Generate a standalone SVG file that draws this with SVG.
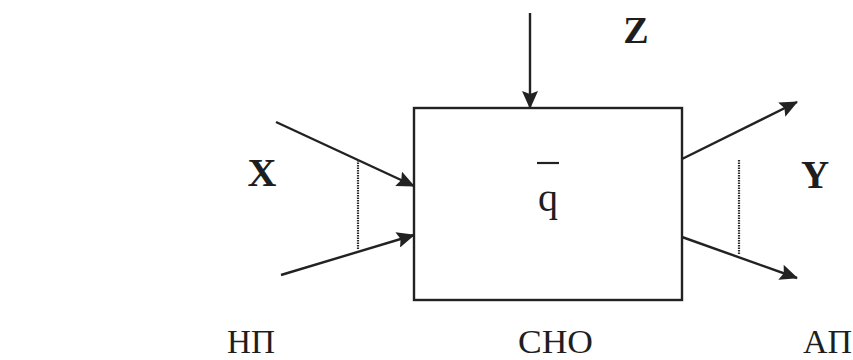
<svg xmlns="http://www.w3.org/2000/svg" width="853" height="360" viewBox="0 0 853 360">
  <style>
    .ln { stroke: #222; stroke-width: 2.4; fill: none; }
    .dot { stroke: #2a2a2a; stroke-width: 2.2; stroke-dasharray: 1.5 1; fill: none; }
    .lbl { font-family: "Liberation Serif", "Times New Roman", serif; fill: #1e1e1e; }
    .b { font-weight: bold; }
  </style>
  <defs>
    <marker id="ah" viewBox="0 0 18 16" refX="17" refY="8" markerWidth="18" markerHeight="16" markerUnits="userSpaceOnUse" orient="auto">
      <path d="M0,0 L18,8 L0,16 L3,8 Z" fill="#222"/>
    </marker>
  </defs>
  <rect width="853" height="360" fill="#ffffff"/>

  <g id="sno">
    <rect x="414" y="108" width="268" height="192" class="ln"/>
    <line x1="537" y1="163" x2="559" y2="163" stroke="#222" stroke-width="2.2"/>
    <text x="548" y="211" class="lbl" font-size="40" text-anchor="middle">q</text>
  </g>

  <g id="connectors">
    <line x1="276" y1="122" x2="414" y2="186" class="ln" marker-end="url(#ah)"/>
    <line x1="281" y1="275" x2="414" y2="235" class="ln" marker-end="url(#ah)"/>
    <line x1="530" y1="13" x2="530" y2="108" class="ln" marker-end="url(#ah)"/>
    <line x1="682" y1="159" x2="797" y2="102" class="ln" marker-end="url(#ah)"/>
    <line x1="682" y1="237" x2="797" y2="278" class="ln" marker-end="url(#ah)"/>
    <line x1="358" y1="160" x2="358" y2="250" class="dot"/>
    <line x1="739" y1="160" x2="739" y2="254" class="dot"/>
  </g>

  <g id="labels">
    <text x="262" y="186" class="lbl b" font-size="40" text-anchor="middle">X</text>
    <text x="636" y="43" class="lbl b" font-size="38" text-anchor="middle">Z</text>
    <text x="815" y="188" class="lbl b" font-size="39" text-anchor="middle">Y</text>
    <text x="227" y="353" class="lbl" font-size="34" textLength="48" lengthAdjust="spacingAndGlyphs">НП</text>
    <text x="518" y="353" class="lbl" font-size="34" textLength="75" lengthAdjust="spacingAndGlyphs">СНО</text>
    <text x="803" y="353" class="lbl" font-size="34" textLength="49" lengthAdjust="spacingAndGlyphs">АП</text>
  </g>
</svg>
